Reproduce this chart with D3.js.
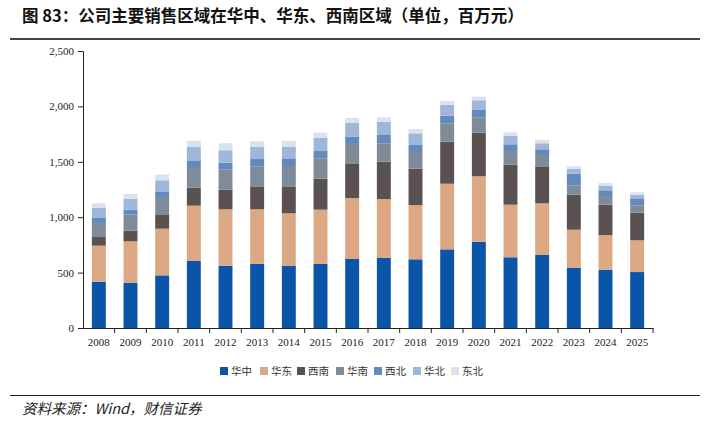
<!DOCTYPE html>
<html>
<head>
<meta charset="utf-8">
<script src="https://cdn.jsdelivr.net/npm/d3@7/dist/d3.min.js"></script>
<style>
  body { margin: 0; background: #fff; }
  svg { display: block; }
</style>
</head>
<body>
<svg id="chart" width="710" height="425"></svg>
<script>
// years and regional sales (million yuan)
var years = ["2008","2009","2010","2011","2012","2013","2014","2015","2016","2017","2018","2019","2020","2021","2022","2023","2024","2025"];
var regions = ["华中","华东","西南","华南","西北","华北","东北"];
var huazhong = [418,406,475,605,562,580,560,580,623,632,620,710,779,638,659,545,526,505];
var huadong  = [325,376,421,499,509,491,475,488,550,532,490,592,590,475,466,342,313,286];
var xinan    = [78,96,130,162,177,202,238,280,313,337,328,380,394,361,334,316,274,250];
var huanan   = [127,145,156,187,181,186,189,180,175,166,142,165,139,123,102,82,78,66];
var xibei    = [45,45,51,60,63,66,69,69,66,75,72,69,66,61,52,108,52,63];
var huabei   = [93,99,100,123,112,111,105,121,126,120,105,97,87,78,54,45,42,30];
var dongbei  = [39,42,51,54,63,49,54,45,42,40,39,36,33,30,30,21,24,25];
var yTicks = [0,500,1000,1500,2000,2500];
var colors = ["#0a55a8","#dca883","#595250","#7f8b99","#6389bd","#9fb6d9","#d9e2ef"];

var series = [huazhong, huadong, xinan, huanan, xibei, huabei, dongbei];
var rows = years.map(function(y, i) {
    var r = { year: y };
    regions.forEach(function(k, j) { r[k] = series[j][i]; });
    return r;
});

var svg = d3.select("#chart");
var plotLeft = 83, plotRight = 653, plotTop = 51, plotBottom = 328;

var x = d3.scaleBand().domain(years).range([plotLeft, plotRight]).paddingInner(0.56).paddingOuter(0.28);
var y = d3.scaleLinear().domain([0, 2500]).range([plotBottom, plotTop]);

//title
svg.append("text")
    .attr("x", 22).attr("y", 22)
    .attr("font-family", "'Noto Sans CJK SC', sans-serif")
    .attr("font-weight", "bold")
    .attr("font-size", 16.5)
    .attr("fill", "#111")
    .text("图 83：公司主要销售区域在华中、华东、西南区域（单位，百万元）");

svg.append("line")
    .attr("x1", 10).attr("x2", 700).attr("y1", 39).attr("y2", 39)
    .attr("stroke", "#444").attr("stroke-width", 2);

//stacked bars
var stack = d3.stack().keys(regions)(rows);
svg.append("g").selectAll("g")
    .data(stack)
    .enter().append("g")
    .attr("fill", function(d, i) { return colors[i]; })
    .selectAll("rect")
    .data(function(d) { return d; })
    .enter().append("rect")
    .attr("x", function(d) { return x(d.data.year); })
    .attr("width", x.bandwidth())
    .attr("y", function(d) { return y(d[1]); })
    .attr("height", function(d) { return y(d[0]) - y(d[1]); });

//axes
var yAxis = svg.append("g")
    .attr("transform", "translate(" + plotLeft + ",0)")
    .call(d3.axisLeft(y).tickValues(yTicks).tickSize(5).tickPadding(4).tickFormat(d3.format(",")));
yAxis.selectAll("text")
    .attr("font-family", "'Liberation Serif', serif")
    .attr("font-size", 11).attr("fill", "#222");
yAxis.selectAll("line,path").attr("stroke", "#222");

var xAxis = svg.append("g")
    .attr("transform", "translate(0," + plotBottom + ")")
    .call(d3.axisBottom(x).tickSize(0).tickPadding(10));
xAxis.select(".domain").attr("stroke", "#222");
xAxis.selectAll("text")
    .attr("font-family", "'Liberation Serif', serif")
    .attr("font-size", 11).attr("fill", "#222");

var step = x.step();
var edges = d3.range(years.length + 1).map(function(i) { return plotLeft + i * step; });
xAxis.selectAll("line.edge")
    .data(edges.slice(1))
    .enter().append("line")
    .attr("class", "edge")
    .attr("x1", function(d) { return d; }).attr("x2", function(d) { return d; })
    .attr("y1", 0).attr("y2", 5)
    .attr("stroke", "#222");

//legend
var legendX = [220, 260, 297, 336, 374, 413, 451];
var legend = svg.append("g").selectAll("g")
    .data(regions)
    .enter().append("g")
    .attr("transform", function(d, i) { return "translate(" + legendX[i] + ",367)"; });
legend.append("rect")
    .attr("width", 8).attr("height", 8)
    .attr("fill", function(d, i) { return colors[i]; });
legend.append("text")
    .attr("x", 11).attr("y", 8)
    .attr("font-family", "'Noto Sans CJK SC', sans-serif")
    .attr("font-size", 10.5).attr("fill", "#333")
    .text(function(d) { return d; });

//source
svg.append("line")
    .attr("x1", 10).attr("x2", 700).attr("y1", 395.5).attr("y2", 395.5)
    .attr("stroke", "#222").attr("stroke-width", 1);
svg.append("text")
    .attr("x", 22).attr("y", 414)
    .attr("font-family", "'Noto Sans CJK SC', sans-serif")
    .attr("font-style", "italic")
    .attr("font-size", 14.5).attr("fill", "#222")
    .text("资料来源：Wind，财信证券");
</script>
</body>
</html>
